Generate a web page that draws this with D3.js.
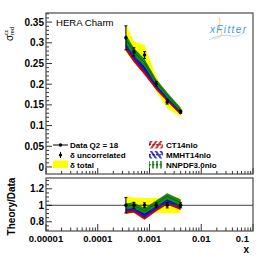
<!DOCTYPE html>
<html><head><meta charset="utf-8">
<script src="https://cdn.jsdelivr.net/npm/d3@7"></script>
<style>body{margin:0;background:#fff}svg{display:block}</style>
</head><body>
<script>
// ---- data ----
const xVals     = [0.00035, 0.0005, 0.0008, 0.00135, 0.0022, 0.004];
const dataVals  = [0.312, 0.278, 0.2705, 0.2005, 0.157, 0.1336];
const errUncor  = [0.029, 0.010, 0.008, 0.006, 0.005, 0.004];
const errTotal  = [0.033, 0.026, 0.024, 0.018, 0.015, 0.013];
const ct14      = [0.293, 0.264, 0.232, 0.194, 0.165, 0.131];
const ct14Err   = [0.012, 0.011, 0.009, 0.008, 0.0066, 0.0052];
const mmht      = [0.300, 0.270, 0.240, 0.198, 0.168, 0.134];
const mmhtErr   = [0.0105, 0.0095, 0.0084, 0.0069, 0.0059, 0.0047];
const nnpdf     = [0.309, 0.278, 0.252, 0.205, 0.174, 0.138];
const nnpdfErr  = [0.011, 0.0097, 0.0088, 0.0072, 0.0061, 0.0048];
const topTicks  = [0, 0.05, 0.1, 0.15, 0.2, 0.25, 0.3, 0.35];
const topTickLabels = ["0", "0.05", "0.1", "0.15", "0.2", "0.25", "0.3", "0.35"];
const ratioTicks = [0.8, 1, 1.2];
const ratioTickLabels = ["0.8", "1", "1.2"];
const xTicks = [1e-5, 1e-4, 1e-3, 1e-2, 1e-1];
const xTickLabels = ["0.00001", "0.0001", "0.001", "0.01", "0.1"];

const W = 266, H = 258;
const L = 46, R = 253, T1 = 13, B1 = 174, T2 = 178, B2 = 231;
const svg = d3.select("body").append("svg").attr("width", W).attr("height", H);
const F = "'Liberation Sans', Arial, Helvetica, sans-serif";

const xs = d3.scaleLog().domain([1e-5, 0.1]).range([L, R]);
const ys = d3.scaleLinear().domain([-0.017, 0.372]).range([B1, T1]);
const yr = d3.scaleLinear().domain([0.688, 1.331]).range([B2, T2]);

const defs = svg.append("defs");
defs.append("clipPath").attr("id","c1").append("rect").attr("x",L).attr("y",T1).attr("width",R-L).attr("height",B1-T1);
defs.append("clipPath").attr("id","c2").append("rect").attr("x",L).attr("y",T2).attr("width",R-L).attr("height",B2-T2);

function hatch(id, color, rot, sp, sw){
  const p = defs.append("pattern").attr("id", id).attr("patternUnits","userSpaceOnUse")
    .attr("width",sp).attr("height",sp).attr("patternTransform","rotate("+rot+")");
  p.append("line").attr("x1",1).attr("y1",0).attr("x2",1).attr("y2",sp).attr("stroke",color).attr("stroke-width",sw);
}
hatch("hR","#cc0000",45,3,1.2); hatch("hB","#1010c0",-45,3,1.2); hatch("hG","#138a13",0,3,1.2);
hatch("lR","#d00000",35,4,1.6); hatch("lB","#1010c0",-35,4,1.6); hatch("lG","#138a13",0,4,1.6);

const idx = d3.range(xVals.length);
const models = [
  {name:"CT14nlo", v:ct14, e:ct14Err, fill:"#d10000", line:"#7a0000", pat:"hR", lpat:"lR"},
  {name:"MMHT14nlo", v:mmht, e:mmhtErr, fill:"#1a1acc", line:"#000080", pat:"hB", lpat:"lB"},
  {name:"NNPDF3.0nlo", v:nnpdf, e:nnpdfErr, fill:"#1b8a1b", line:"#0a5a0a", pat:"hG", lpat:"lG"}
];

// ---------- top panel ----------
const g1 = svg.append("g").attr("clip-path","url(#c1)");
g1.append("path").attr("fill","#ffff00")
  .attr("d", d3.area().x(i=>xs(xVals[i])).y0(i=>ys(dataVals[i]-errTotal[i])).y1(i=>ys(dataVals[i]+errTotal[i]))(idx));
models.forEach(m=>{
  const a = d3.area().x(i=>xs(xVals[i])).y0(i=>ys(m.v[i]-m.e[i])).y1(i=>ys(m.v[i]+m.e[i]))(idx);
  g1.append("path").attr("fill",m.fill).attr("d", a);
  g1.append("path").attr("fill","url(#"+m.pat+")").attr("opacity",0.6).attr("d", a);
  g1.append("path").attr("fill","none").attr("stroke",m.line).attr("stroke-width",0.8)
    .attr("d", d3.line().x(i=>xs(xVals[i])).y(i=>ys(m.v[i]))(idx));
});
idx.forEach(i=>{
  const x = xs(xVals[i]);
  g1.append("line").attr("x1",x).attr("x2",x).attr("y1",ys(dataVals[i]-errUncor[i])).attr("y2",ys(dataVals[i]+errUncor[i])).attr("stroke","#000").attr("stroke-width",1);
  [dataVals[i]-errUncor[i], dataVals[i]+errUncor[i]].forEach(v=>{
    g1.append("line").attr("x1",x-1.5).attr("x2",x+1.5).attr("y1",ys(v)).attr("y2",ys(v)).attr("stroke","#000").attr("stroke-width",1);
  });
  g1.append("circle").attr("cx",x).attr("cy",ys(dataVals[i])).attr("r",1.8).attr("fill","#000");
});

// ---------- ratio panel ----------
const g2 = svg.append("g").attr("clip-path","url(#c2)");
g2.append("path").attr("fill","#ffff00")
  .attr("d", d3.area().x(i=>xs(xVals[i])).y0(i=>yr(1-errTotal[i]/dataVals[i])).y1(i=>yr(1+errTotal[i]/dataVals[i]))(idx));
models.forEach(m=>{
  const a = d3.area().x(i=>xs(xVals[i])).y0(i=>yr((m.v[i]-m.e[i])/dataVals[i])).y1(i=>yr((m.v[i]+m.e[i])/dataVals[i]))(idx);
  g2.append("path").attr("fill",m.fill).attr("d", a);
  g2.append("path").attr("fill","url(#"+m.pat+")").attr("opacity",0.6).attr("d", a);
  g2.append("path").attr("fill","none").attr("stroke",m.line).attr("stroke-width",0.8)
    .attr("d", d3.line().x(i=>xs(xVals[i])).y(i=>yr(m.v[i]/dataVals[i]))(idx));
});
g2.append("line").attr("x1",L).attr("x2",R).attr("y1",yr(1)).attr("y2",yr(1)).attr("stroke","#444").attr("stroke-width",1);
idx.forEach(i=>{
  const x = xs(xVals[i]);
  const e = errUncor[i]/dataVals[i];
  g2.append("line").attr("x1",x).attr("x2",x).attr("y1",yr(1-e)).attr("y2",yr(1+e)).attr("stroke","#000").attr("stroke-width",1);
  [1-e,1+e].forEach(v=>g2.append("line").attr("x1",x-1.5).attr("x2",x+1.5).attr("y1",yr(v)).attr("y2",yr(v)).attr("stroke","#000"));
  g2.append("circle").attr("cx",x).attr("cy",yr(1)).attr("r",1.8).attr("fill","#000");
});

// ---------- axes / ticks ----------
const tickG = svg.append("g").attr("stroke","#000").attr("stroke-width",0.8);
d3.range(0, 0.3701, 0.01).forEach(v=>{
  const major = Math.abs(v/0.05 - Math.round(v/0.05))<1e-6;
  tickG.append("line").attr("x1",L).attr("x2",L+(major?6:3)).attr("y1",ys(v)).attr("y2",ys(v));
});
d3.range(0.7, 1.331, 0.05).forEach(v=>{
  const major = Math.abs(v/0.2 - Math.round(v/0.2))<1e-6;
  tickG.append("line").attr("x1",L).attr("x2",L+(major?6:3)).attr("y1",yr(v)).attr("y2",yr(v));
});
const xMinor = [];
[1e-5,1e-4,1e-3,1e-2].forEach(d=>{ for(let k=1;k<10;k++) xMinor.push([d*k, k===1]); });
xMinor.push([0.1,true]);
xMinor.forEach(([v,major])=>{
  const x = xs(v);
  tickG.append("line").attr("x1",x).attr("x2",x).attr("y1",B1).attr("y2",B1-(major?6:3));
  tickG.append("line").attr("x1",x).attr("x2",x).attr("y1",B2).attr("y2",B2-(major?7:3.5));
});

svg.append("rect").attr("x",L).attr("y",T1).attr("width",R-L).attr("height",B1-T1).attr("fill","none").attr("stroke","#4a4a4a").attr("stroke-width",1.2);
svg.append("rect").attr("x",L).attr("y",T2).attr("width",R-L).attr("height",B2-T2).attr("fill","none").attr("stroke","#4a4a4a").attr("stroke-width",1.2);

const lab = svg.append("g").attr("font-family",F).attr("font-weight","bold").attr("font-size",10).attr("fill","#000");
topTicks.forEach((v,i)=>lab.append("text").attr("x",44).attr("y",ys(v)+3.6).attr("text-anchor","end").text(topTickLabels[i]));
ratioTicks.forEach((v,i)=>lab.append("text").attr("x",44).attr("y",yr(v)+3.6).attr("text-anchor","end").text(ratioTickLabels[i]));
xTicks.forEach((v,i)=>{
  const t = lab.append("text").attr("x",xs(v)).attr("y",242).attr("font-size",9.5).attr("text-anchor","middle").text(xTickLabels[i]);
  const w = t.node().getComputedTextLength();
  if (xs(v) + w/2 > 249) t.attr("x", 249 - w/2);   // keep last label inside the pad edge
});
lab.append("text").attr("x",249).attr("y",253).attr("text-anchor","end").text("x");

const yt = svg.append("g").attr("transform","translate(12.5,14) rotate(-90)").attr("font-family",F).attr("fill","#000");
yt.append("text").attr("x",-27).attr("y",0).attr("font-size",10).text("σ");
yt.append("text").attr("x",-21).attr("y",-5).attr("font-size",5.5).text("cc");
yt.append("text").attr("x",-21).attr("y",1.5).attr("font-size",5.5).text("red");
svg.append("text").attr("transform","translate(14.5,206.5) rotate(-90)").attr("text-anchor","middle")
  .attr("font-family",F).attr("font-weight","bold").attr("font-size",10).text("Theory/Data");

svg.append("text").attr("x",56).attr("y",26).attr("font-family",F).attr("font-size",9.6).text("HERA Charm");

const lg = svg.append("g");
lg.append("path").attr("d","M219,17 C222,22 217,27 221,31 C224,35 219,38 214,39").attr("fill","none").attr("stroke","#f5d68a").attr("stroke-width",1.2);
lg.append("path").attr("d","M209,40 C215,36 224,34 232,36 C237,37 240,35 243,33").attr("fill","none").attr("stroke","#a8d4f0").attr("stroke-width",0.9);
lg.append("text").attr("x",210).attr("y",33).attr("font-family",F).attr("font-style","italic").attr("font-size",10)
  .attr("fill","#3a9ad9").attr("textLength",36).text("xFitter");

const lgL = svg.append("g").attr("font-family",F).attr("font-weight","bold").attr("font-size",8);
lgL.append("line").attr("x1",53).attr("x2",68).attr("y1",145).attr("y2",145).attr("stroke","#000");
lgL.append("circle").attr("cx",60.5).attr("cy",145).attr("r",1.8).attr("fill","#000");
lgL.append("text").attr("x",70).attr("y",148).text("Data Q2 = 18");
lgL.append("line").attr("x1",60.5).attr("x2",60.5).attr("y1",152).attr("y2",158).attr("stroke","#000");
lgL.append("circle").attr("cx",60.5).attr("cy",155).attr("r",1.6).attr("fill","#000");
lgL.append("text").attr("x",70).attr("y",158).text("δ uncorrelated");
lgL.append("rect").attr("x",53).attr("y",160.5).attr("width",15).attr("height",7.5).attr("fill","#ffff00");
lgL.append("text").attr("x",70).attr("y",168).text("δ total");

const lgR = svg.append("g").attr("font-family",F).attr("font-weight","bold").attr("font-size",8);
models.forEach((m,i)=>{
  const y = 141 + i*10;
  lgR.append("rect").attr("x",149).attr("y",y).attr("width",14).attr("height",7.5).attr("fill","url(#"+m.lpat+")");
  lgR.append("line").attr("x1",149).attr("x2",163).attr("y1",y+3.75).attr("y2",y+3.75).attr("stroke",m.line).attr("stroke-width",1).attr("stroke-dasharray","2,1.5");
  lgR.append("text").attr("x",166).attr("y",y+7).text(m.name);
});
</script>
</body></html>
